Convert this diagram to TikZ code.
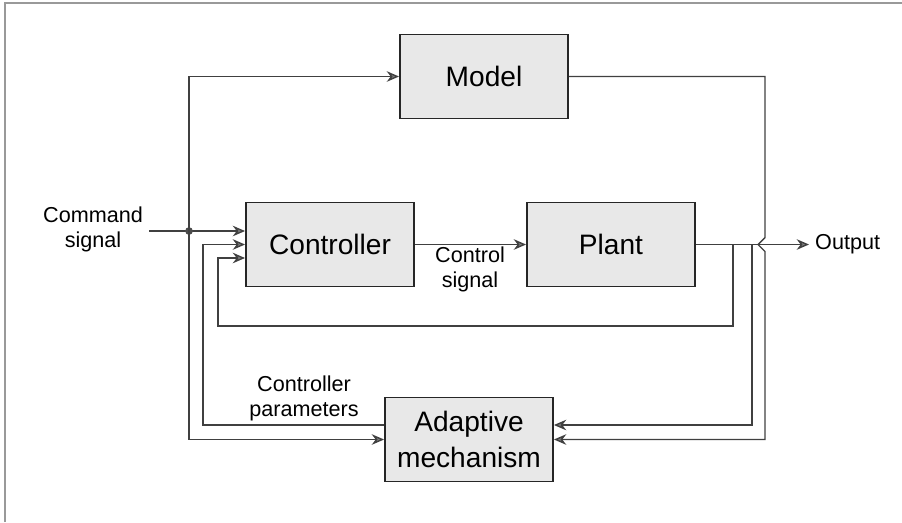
\documentclass[tikz,border=0pt]{standalone}
\usepackage{fontspec}
\setmainfont{Liberation Sans}
\usetikzlibrary{arrows.meta, calc, positioning}

\begin{document}
\begin{tikzpicture}[x=0.02cm, y=-0.02cm,
  block/.style={draw=black!85, line width=1.1pt, fill=black!9, inner sep=0pt,
    minimum width=3.36cm, minimum height=1.68cm, align=center,
    font=\fontsize{16}{20}\selectfont},
  lbl/.style={align=center, font=\fontsize{12.3}{14.2}\selectfont},
  wire/.style={draw=black!75, line width=0.8pt},
  arr/.style={wire, -{Stealth[length=7pt, width=6pt, fill=black!50]}}]

\useasboundingbox (0,0) rectangle (902,522);
\draw[black!40, line width=1.4pt] (5,522) -- (5,3) -- (902,3);

% blocks
\node[block] (model) at (484,76.5)  {Model};
\node[block] (ctrl)  at (330,244.5) {Controller};
\node[block] (plant) at (611,244.5) {Plant};
\node[block] (adapt) at (469,439.5) {Adaptive\\mechanism};

% signal names
\node[lbl] (cmd)  at (93,229)  {Command\\signal};
\node[lbl] (csig) at (470,269) {Control\\signal};
\node[lbl] (cpar) at (304,398) {Controller\\parameters};
\node[lbl, anchor=west] (out) at (809,244.5) {Output};

\coordinate (split) at (189,231);
\coordinate (tap1)  at (733,244.5);
\coordinate (tap2)  at (752,244.5);
\coordinate (hop)   at (765,244.5);

% forward path
\draw[arr] (cmd.east |- split) -- (split) -- (split -| ctrl.west);
\fill[black!70] (split) circle[radius=2.2pt];
\draw[arr] (ctrl) -- (plant);
\draw[arr] (plant.east) -- (out.west);

% reference model and adaptation
\draw[arr] (split) |- (model.west);
\draw[arr] (split) |- (adapt.west);
\draw[arr] ([yshift=0.29cm]adapt.west) -| (203,244.5) -- (ctrl.west);
\draw[arr] (tap1) |- (218,326) |- ([yshift=-0.27cm]ctrl.west);
\draw[arr] (tap2) |- ([yshift=0.29cm]adapt.east);
\draw[arr] (model.east) -| ($(hop)+(0,-7)$)
  -- ($(hop)+(-7,0)$) -- ($(hop)+(0,7)$) |- (adapt.east);

\end{tikzpicture}
\end{document}
